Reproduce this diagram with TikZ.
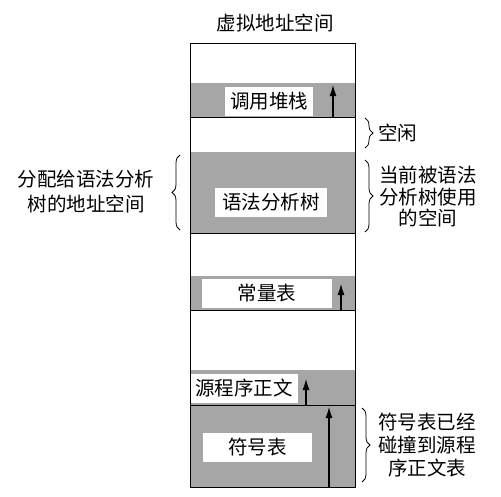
\documentclass[tikz,border=0pt]{standalone}
\usepackage{fontspec}
\setmainfont{Noto Sans CJK SC}
\usetikzlibrary{positioning,arrows.meta,decorations.pathreplacing}

\begin{document}
\begin{tikzpicture}[
    x=1pt, y=-1pt,
    font=\fontsize{19.5}{23}\selectfont,
    band/.style={
        fill=black!35,
        minimum width=165pt,
        inner sep=0pt,
        anchor=north west
    },
    label box/.style={
        fill=white,
        inner sep=0pt,
        minimum height=29pt
    },
    divider/.style={line width=1.1pt},
    arrow/.style={-{Latex[length=11pt,width=7pt]}, line width=1.1pt},
    brace/.style={decorate, decoration={brace, amplitude=8pt}, line width=0.8pt},
    note/.style={align=center, inner sep=0pt}
]
\useasboundingbox (0,0) rectangle (501,496);

\node[band, minimum height=34pt] (stack) at (190,83) {};
\node[band, minimum height=81pt] (tree) at (190,152) {};
\node[band, minimum height=34pt] (const) at (190,276) {};
\node[band, minimum height=35pt] (source) at (190,370) {};
\node[band, minimum height=82pt] (symtab) at (190,405) {};

\node[draw, line width=1.2pt, minimum width=165pt, minimum height=444pt,
      inner sep=0pt, anchor=north west] (vas) at (190,43) {};
\node (title) at (275,23) {虚拟地址空间};

\draw[divider] (stack.south west) -- (stack.south east);
\draw[divider] (tree.south west) -- (tree.south east);
\draw[divider] (const.south west) -- (const.south east);
\draw[divider] (source.south west) -- (source.south east);

\node[label box, minimum width=88pt] (stack label) at (269,101) {调用堆栈};
\node[label box, minimum width=112pt] (tree label) at (271,202) {语法分析树};
\node[label box, minimum width=130pt] (const label) at (267,293.5) {常量表};
\node[label box, minimum width=107pt] (source label) at (244,388) {源程序正文};
\node[label box, minimum width=109pt] (symtab label) at (257.5,447.5) {符号表};

\coordinate (stack tip) at (333,85);
\coordinate (const tip) at (341,284);
\coordinate (source tip) at (306,379);
\coordinate (symtab tip) at (329,407);
\draw[arrow] (stack.south -| stack tip) -- (stack tip);
\draw[arrow] (const.south -| const tip) -- (const tip);
\draw[arrow] (source.south -| source tip) -- (source tip);
\draw[arrow] (symtab.south -| symtab tip) -- (symtab tip);

\coordinate (free top) at (365,118);
\coordinate (free bottom) at (365,148);
\coordinate (used top) at (365,160);
\coordinate (used bottom) at (365,232);
\coordinate (hit top) at (362,408);
\coordinate (hit bottom) at (362,482);
\coordinate (alloc top) at (180,155);
\coordinate (alloc bottom) at (180,230);
\draw[brace] (free top) -- (free bottom);
\draw[brace] (used top) -- (used bottom);
\draw[brace] (hit top) -- (hit bottom);
\draw[brace] (alloc bottom) -- (alloc top);

\node[note, anchor=west] (free) at (378,133) {空闲};
\node[note, font=\fontsize{19.5}{21.5}\selectfont] (used) at (428,197) {当前被语法\\分析树使用\\的空间};
\node[note] (hit) at (427,445) {符号表已经\\碰撞到源程\\序正文表};
\node[note, font=\fontsize{19.5}{25}\selectfont] (alloc) at (86,192) {分配给语法分析\\树的地址空间};

\end{tikzpicture}
\end{document}
